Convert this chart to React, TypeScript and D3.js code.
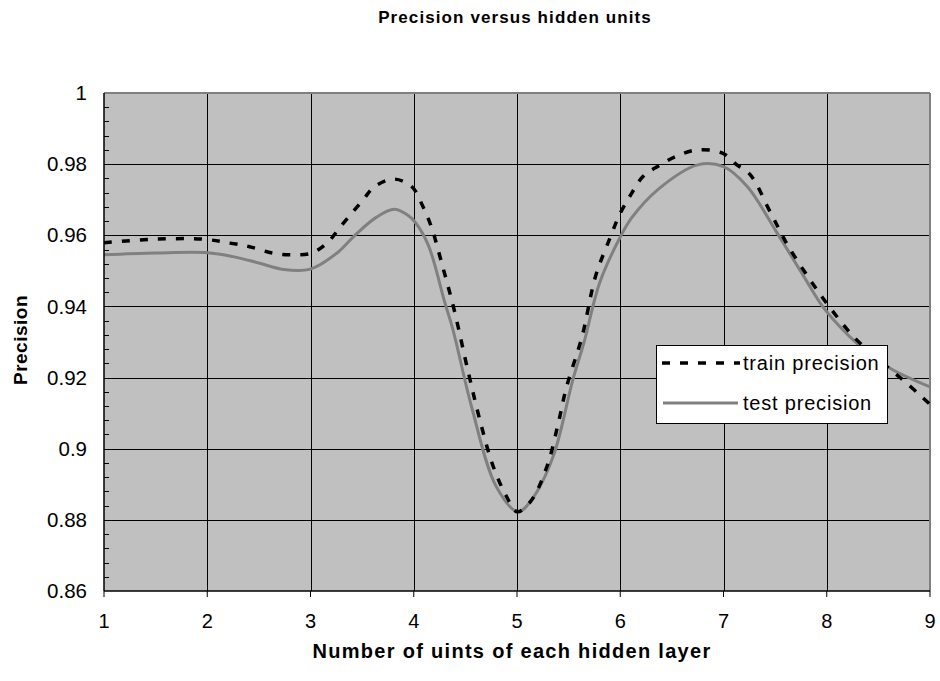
import React from "react";
import * as d3 from "d3";

const trainX = [1.0, 1.49, 1.96, 2.22, 2.41, 2.63, 2.83, 3.01, 3.16, 3.29, 3.51, 3.62, 3.81, 3.98, 4.09, 4.17, 4.28, 4.39, 4.53, 4.64, 4.77, 4.9, 5.0, 5.13, 5.29, 5.4, 5.48, 5.63, 5.76, 5.9, 6.0, 6.11, 6.22, 6.37, 6.55, 6.75, 6.99, 7.13, 7.26, 7.45, 7.62, 7.84, 8.01, 8.26, 8.58, 8.74, 8.92, 9.0];
const trainY = [0.9579, 0.9589, 0.9589, 0.9578, 0.9568, 0.955, 0.9545, 0.955, 0.9578, 0.9624, 0.97, 0.9737, 0.9758, 0.9737, 0.968, 0.9624, 0.9512, 0.9392, 0.9213, 0.9081, 0.895, 0.8865, 0.8823, 0.8851, 0.895, 0.9072, 0.9174, 0.9315, 0.9484, 0.9592, 0.9662, 0.9718, 0.9765, 0.9795, 0.9823, 0.984, 0.9831, 0.9798, 0.977, 0.9667, 0.9573, 0.9474, 0.9405, 0.9315, 0.9231, 0.9193, 0.9146, 0.9125];

const testX = [1.0, 1.5, 2.0, 2.25, 2.5, 2.74, 3.0, 3.26, 3.43, 3.64, 3.81, 3.94, 4.01, 4.14, 4.3, 4.38, 4.56, 4.8, 5.01, 5.14, 5.35, 5.54, 5.65, 5.8, 6.0, 6.11, 6.37, 6.75, 7.0, 7.23, 7.52, 7.77, 7.96, 8.13, 8.29, 8.61, 9.0];
const testY = [0.9545, 0.955, 0.9551, 0.954, 0.9522, 0.9504, 0.9505, 0.9551, 0.96, 0.9651, 0.9673, 0.9657, 0.9638, 0.9573, 0.9412, 0.9334, 0.9118, 0.8893, 0.8823, 0.8856, 0.8978, 0.9193, 0.93, 0.9466, 0.9595, 0.9649, 0.973, 0.9798, 0.9793, 0.9737, 0.9606, 0.9488, 0.94, 0.9342, 0.9297, 0.9227, 0.9174];

const xTicks = [1, 2, 3, 4, 5, 6, 7, 8, 9];
const yTicks = [0.86, 0.88, 0.9, 0.92, 0.94, 0.96, 0.98, 1];
const yTickLabels = ["0.86", "0.88", "0.9", "0.92", "0.94", "0.96", "0.98", "1"];
const seriesNames = ["train precision", "test precision"];

const FONT = "'Liberation Sans', Arial, sans-serif";

export default function App() {
  const left = 104, right = 930, top = 93, bottom = 591;
  const x = d3.scaleLinear().domain([1, 9]).range([left, right]);
  const y = d3.scaleLinear().domain([0.86, 1]).range([bottom, top]);
  const line = d3
    .line<[number, number]>()
    .x((d) => x(d[0]))
    .y((d) => y(d[1]))
    .curve(d3.curveCatmullRom.alpha(0.5));
  const trainPath = line(trainX.map((v, i) => [v, trainY[i]]))!;
  const testPath = line(testX.map((v, i) => [v, testY[i]]))!;
  const minor = d3.range(0, 36).map((i) => 0.86 + i * 0.004).filter((v) => {
    const f = ((v - 0.86) / 0.02) % 1;
    return f > 0.01 && f < 0.99;
  });

  return (
    <svg width={940} height={681} style={{ position: "absolute", left: 0, top: 0 }} fontFamily={FONT}>
      <rect x={0} y={0} width={940} height={681} fill="#fff" />
      <text x={515} y={23} textAnchor="middle" fontSize={17} fontWeight="bold" letterSpacing={1.1}>
        Precision versus hidden units
      </text>
      <rect x={left} y={top} width={right - left} height={bottom - top} fill="#C0C0C0" />
      {yTicks.slice(1, -1).map((t) => (
        <line key={"gy" + t} x1={left} x2={right} y1={Math.round(y(t)) + 0.5} y2={Math.round(y(t)) + 0.5} stroke="#000" strokeWidth={1} />
      ))}
      {xTicks.slice(1, -1).map((t) => (
        <line key={"gx" + t} x1={Math.round(x(t)) + 0.5} x2={Math.round(x(t)) + 0.5} y1={top} y2={bottom} stroke="#000" strokeWidth={1} />
      ))}
      <line x1={left} x2={right} y1={top} y2={top} stroke="#808080" strokeWidth={2} />
      <line x1={right} x2={right} y1={top} y2={bottom} stroke="#808080" strokeWidth={2} />
      {minor.map((t) => (
        <line key={"m" + t} x1={left} x2={left + 5} y1={Math.round(y(t)) + 0.5} y2={Math.round(y(t)) + 0.5} stroke="#000" strokeWidth={1} />
      ))}
      <path d={testPath} fill="none" stroke="#808080" strokeWidth={3} strokeLinejoin="round" />
      <path d={trainPath} fill="none" stroke="#000" strokeWidth={3.5} strokeDasharray="8 10" />
      <line x1={left} x2={left} y1={top} y2={bottom} stroke="#000" strokeWidth={1.5} />
      <line x1={left} x2={right} y1={bottom} y2={bottom} stroke="#000" strokeWidth={1.5} />
      {xTicks.map((t) => (
        <g key={"xt" + t}>
          <line x1={x(t)} x2={x(t)} y1={bottom} y2={bottom + 6} stroke="#000" strokeWidth={1} />
          <text x={x(t)} y={628} textAnchor="middle" fontSize={20}>
            {t}
          </text>
        </g>
      ))}
      {yTicks.map((t, i) => (
        <text key={"yt" + t} x={87} y={y(t)} dy="0.35em" textAnchor="end" fontSize={20.5}>
          {yTickLabels[i]}
        </text>
      ))}
      <text x={512} y={658} textAnchor="middle" fontSize={20} fontWeight="bold" letterSpacing={1.3}>
        Number of uints of each hidden layer
      </text>
      <text transform={`translate(27,${(top + bottom) / 2 - 2}) rotate(-90)`} textAnchor="middle" fontSize={19} fontWeight="bold" letterSpacing={0.5}>
        Precision
      </text>
      <rect x={656.5} y={345.5} width={231} height={78} fill="#fff" stroke="#000" strokeWidth={1} />
      <line x1={662} x2={740} y1={363} y2={363} stroke="#000" strokeWidth={3.5} strokeDasharray="8 10" />
      <text x={743} y={370} fontSize={20} letterSpacing={0.8}>{seriesNames[0]}</text>
      <line x1={663} x2={738} y1={403} y2={403} stroke="#808080" strokeWidth={3} />
      <text x={743} y={410} fontSize={20} letterSpacing={0.8}>{seriesNames[1]}</text>
    </svg>
  );
}
